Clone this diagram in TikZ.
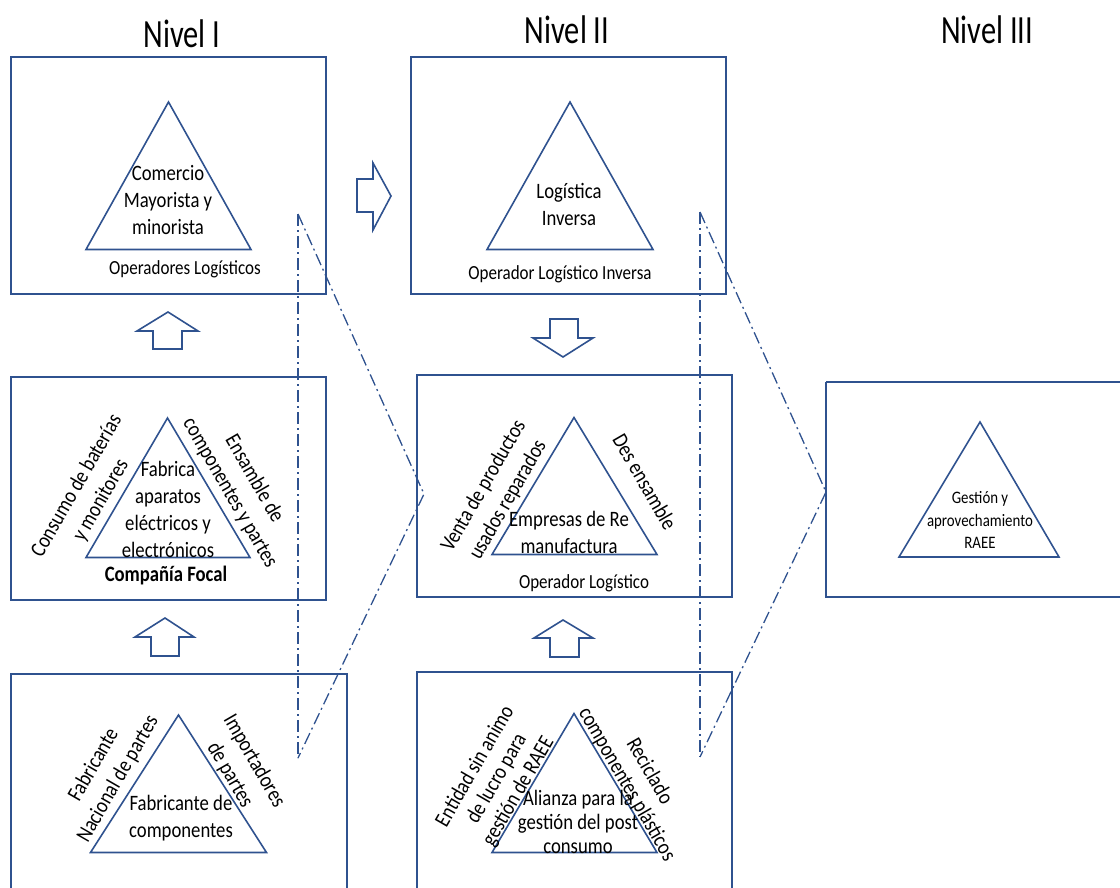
\documentclass[tikz,border=0pt]{standalone}
\usepackage{fontspec}
\setmainfont{Carlito}[FakeStretch=0.85]
\newfontfamily\headfont{Carlito}[FakeStretch=0.76]
\definecolor{edge}{RGB}{47,82,143}
\tikzset{
  frame/.style={draw=edge, line width=1.6pt},
  tri/.style={draw=edge, line width=1.6pt, line join=miter},
  blockarrow/.style={draw=edge, line width=1.6pt, line join=miter},
  linkline/.style={draw=edge, line width=1.3pt, dash pattern=on 12pt off 4pt on 2pt off 4pt},
  lbl/.style={inner sep=0pt, align=center, font=\fontsize{22}{27}\selectfont},
  side/.style={inner sep=0pt, align=center, font=\fontsize{22}{28}\selectfont},
  sublbl/.style={inner sep=0pt, align=center, font=\fontsize{20}{24}\selectfont},
  small/.style={inner sep=0pt, align=center, font=\fontsize{17.5}{22.5}\selectfont},
  title/.style={inner sep=0pt, font=\headfont\fontsize{40}{44}\selectfont},
}
\begin{document}
\begin{tikzpicture}[x=1pt,y=-1pt]
\useasboundingbox (0,0) rectangle (1120,888);
\clip (0,0) rectangle (1120,888);

% level headings
\node[title] (n1) at (182,34) {Nivel I};
\node[title] (n2) at (567,30) {Nivel II};
\node[title] (n3) at (987,30) {Nivel III};

% frames
\draw[frame] (11,57) rectangle (326,294);
\draw[frame] (11,377) rectangle (326,600);
\draw[frame] (11,674) rectangle (347,900);
\draw[frame] (411,57) rectangle (726,294);
\draw[frame] (417,375) rectangle (732,597);
\draw[frame] (417,672) rectangle (732,900);
\draw[frame] (826,382) -- (1130,382) (826,382) -- (826,597) -- (1130,597);

% triangles
\draw[tri] (168.5,102) -- (251,249.5) -- (86,249.5) -- cycle;
\draw[tri] (167.5,418) -- (250,557.5) -- (86,557.5) -- cycle;
\draw[tri] (178.5,715) -- (266.5,852.5) -- (90.5,852.5) -- cycle;
\draw[tri] (570,102) -- (653,249.5) -- (487,249.5) -- cycle;
\draw[tri] (574,417.5) -- (657,554.5) -- (492,554.5) -- cycle;
\draw[tri] (574,713.5) -- (657,852.5) -- (492,852.5) -- cycle;
\draw[tri] (980,422) -- (1059,557) -- (899,557) -- cycle;

% block arrows
\draw[blockarrow] (357,179) -- (373,179) -- (373,163) -- (391,196) -- (373,230) -- (373,212) -- (357,212) -- cycle;
\draw[blockarrow] (153,349) -- (153,331) -- (137,331) -- (168,312) -- (198,331) -- (182,331) -- (182,349) -- cycle;
\draw[blockarrow] (151,656) -- (151,637) -- (135,637) -- (165,618) -- (194,637) -- (179,637) -- (179,656) -- cycle;
\draw[blockarrow] (550,319) -- (578,319) -- (578,338) -- (593,338) -- (563,357) -- (533,338) -- (550,338) -- cycle;
\draw[blockarrow] (550,657) -- (550,638) -- (534,638) -- (563,620) -- (593,638) -- (579,638) -- (579,657) -- cycle;

% dash-dot links
\coordinate (aT) at (298,214);
\coordinate (aB) at (298,758);
\coordinate (aP) at (424,494);
\coordinate (bT) at (700,212);
\coordinate (bB) at (700,757);
\coordinate (bP) at (826,492);
\draw[linkline] (aT) -- (aB);
\draw[linkline] (aT) -- (aP) -- (aB);
\draw[linkline] (bT) -- (bB);
\draw[linkline] (bT) -- (bP) -- (bB);

% texts, level I
\node[lbl] (tA) at (168,200) {Comercio\\Mayorista y\\minorista};
\node[sublbl] (sA) at (185,269) {Operadores Logísticos};
\node[lbl] (tB) at (168,509) {Fabrica\\aparatos\\eléctricos y\\electrónicos};
\node[lbl, font=\bfseries\fontsize{22}{27}\selectfont] (sB) at (166,576) {Compañía Focal};
\node[side, rotate=60] (lB) at (89,493) {Consumo de baterías\\y monitores};
\node[side, rotate=-60] (rB) at (242,486) {Ensamble de\\componentes y partes};
\node[lbl] (tC) at (181,818) {Fabricante de\\componentes};
\node[side, rotate=60] (lC) at (106,772) {Fabricante\\Nacional de partes};
\node[side, rotate=-60] (rC) at (242,768) {Importadores\\de partes};

% texts, level II
\node[lbl] (tD) at (569,204) {Logística\\Inversa};
\node[sublbl] (sD) at (560,274) {Operador Logístico Inversa};
\node[lbl] (tE) at (569,532) {Empresas de Re\\manufactura};
\node[sublbl] (sE) at (584,583) {Operador Logístico};
\node[side, rotate=60] (lE) at (496,493) {Venta de productos\\usados reparados};
\node[side, rotate=-60] (rE) at (645,482) {Des ensamble};
\node[lbl, font=\fontsize{22}{24}\selectfont] (tF) at (578,822) {Alianza para la\\gestión del post\\consumo};
\node[side, rotate=60, font=\fontsize{22}{25}\selectfont] (lF) at (497,779) {Entidad sin animo\\de lucro para\\gestión de RAEE};
\node[side, rotate=-60, font=\fontsize{22}{26}\selectfont] (rF) at (638,778) {Reciclado\\componentes plásticos};

% texts, level III
\node[small] (tG) at (980,520) {Gestión y\\aprovechamiento\\RAEE};
\end{tikzpicture}
\end{document}
